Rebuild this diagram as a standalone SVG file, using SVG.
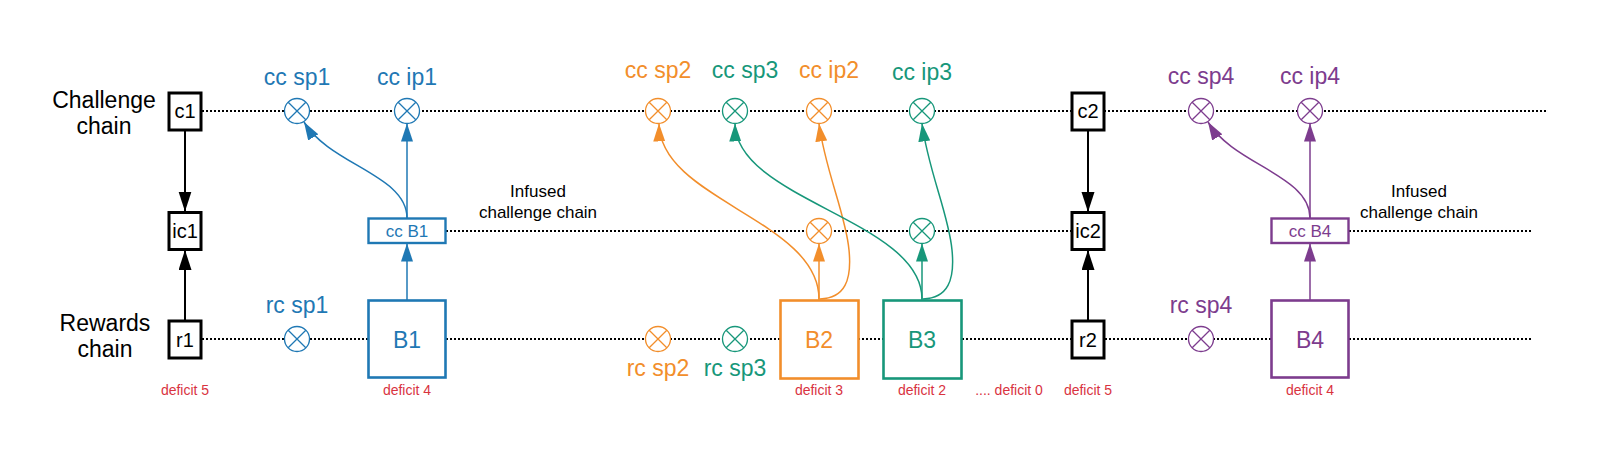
<svg xmlns="http://www.w3.org/2000/svg" width="1600" height="456" viewBox="0 0 1600 456">
<style>
text{font-family:"Liberation Sans",Arial,sans-serif;text-anchor:middle}
.lbl{font-size:23px}
.blk{fill:#000}
.inf{font-size:17px;fill:#000}
.def{font-size:14px;fill:#d9333f}
.dot{fill:none;stroke:#000;stroke-width:2;stroke-dasharray:2 2}
.bx{fill:#fff;stroke:#000;stroke-width:3}
.bxt{font-size:20px;fill:#000}
.blue{stroke:#1f78b4;fill:none}
.orange{stroke:#f28e2b;fill:none}
.teal{stroke:#17977a;fill:none}
.purple{stroke:#7d3c8e;fill:none}
.tb{fill:#1f78b4}.to{fill:#f28e2b}.tt{fill:#17977a}.tp{fill:#7d3c8e}
.cx{stroke-width:1.3}
.big{fill:#fff;stroke-width:2.6}
.small{fill:#fff;stroke-width:2.4}
.edge{stroke-width:1.5;fill:none}
.bedge{stroke:#000;stroke-width:2;fill:none}
.bt{font-size:23px}
.st{font-size:17px}
</style>
<defs>
<marker id="aK" markerUnits="userSpaceOnUse" markerWidth="20" markerHeight="14" refX="20" refY="6.5" orient="auto"><path d="M0,0 L20,6.5 L0,13 z" fill="#000"/></marker>
<marker id="aB" markerUnits="userSpaceOnUse" markerWidth="18" markerHeight="12" refX="18" refY="6" orient="auto"><path d="M0,0 L18,6 L0,12 z" fill="#1f78b4"/></marker>
<marker id="aO" markerUnits="userSpaceOnUse" markerWidth="18" markerHeight="12" refX="18" refY="6" orient="auto"><path d="M0,0 L18,6 L0,12 z" fill="#f28e2b"/></marker>
<marker id="aT" markerUnits="userSpaceOnUse" markerWidth="18" markerHeight="12" refX="18" refY="6" orient="auto"><path d="M0,0 L18,6 L0,12 z" fill="#17977a"/></marker>
<marker id="aP" markerUnits="userSpaceOnUse" markerWidth="18" markerHeight="12" refX="18" refY="6" orient="auto"><path d="M0,0 L18,6 L0,12 z" fill="#7d3c8e"/></marker>
<g id="xc"><circle r="12.5" fill="#fff"/><path d="M-8.8,-8.8 L8.8,8.8 M8.8,-8.8 L-8.8,8.8"/></g>
</defs>

<!-- chain labels -->
<g id="chain-labels">
<text class="lbl blk" x="104" y="108">Challenge</text>
<text class="lbl blk" x="104" y="134">chain</text>
<text class="lbl blk" x="105" y="331">Rewards</text>
<text class="lbl blk" x="105" y="357">chain</text>
<text class="inf" x="538" y="197">Infused</text>
<text class="inf" x="538" y="218">challenge chain</text>
<text class="inf" x="1419" y="197">Infused</text>
<text class="inf" x="1419" y="218">challenge chain</text>
</g>

<!-- dotted chain lines -->
<g id="chains">
<path class="dot" d="M202,111 H1072 M1104,111 H1547"/>
<path class="dot" d="M446,231 H1072 M1349,231 H1533"/>
<path class="dot" d="M202,339 H1072 M1105,339 H1533"/>
</g>

<!-- connectors -->
<g id="connectors">
<path class="bedge" d="M185,130 V211.5" marker-end="url(#aK)"/>
<path class="bedge" d="M185,320.5 V250" marker-end="url(#aK)"/>
<path class="bedge" d="M1088,130 V212" marker-end="url(#aK)"/>
<path class="bedge" d="M1088,320.5 V250" marker-end="url(#aK)"/>

<path class="edge blue" d="M407,300 V243.5" marker-end="url(#aB)"/>
<path class="edge blue" d="M407,218 V123.5" marker-end="url(#aB)"/>
<path class="edge blue" d="M407,218 C407,175 330,165 304,122" marker-end="url(#aB)"/>

<path class="edge orange" d="M819,300 V243.5" marker-end="url(#aO)"/>
<path class="edge orange" d="M819,299 C819,220 660,200 659,123.5" marker-end="url(#aO)"/>
<path class="edge orange" d="M820,299 C845,298 852,280 849,250 C846,215 825,170 819,123.5" marker-end="url(#aO)"/>

<path class="edge teal" d="M922,300 V243.5" marker-end="url(#aT)"/>
<path class="edge teal" d="M922,299 C922,220 736,200 735,123.5" marker-end="url(#aT)"/>
<path class="edge teal" d="M923,299 C948,298 955,280 952,250 C949,215 928,170 922,123.5" marker-end="url(#aT)"/>

<path class="edge purple" d="M1310,300 V243.5" marker-end="url(#aP)"/>
<path class="edge purple" d="M1310,218 V123.5" marker-end="url(#aP)"/>
<path class="edge purple" d="M1310,218 C1310,175 1234,165 1208,122" marker-end="url(#aP)"/>
</g>

<!-- black nodes -->
<g id="c1"><rect class="bx" x="169" y="93" width="32" height="37"/><text class="bxt" x="185" y="118">c1</text></g>
<g id="ic1"><rect class="bx" x="169" y="212.5" width="32" height="37"/><text class="bxt" x="185" y="238">ic1</text></g>
<g id="r1"><rect class="bx" x="169" y="321" width="32" height="37"/><text class="bxt" x="185" y="346.5">r1</text></g>
<g id="c2"><rect class="bx" x="1072" y="93" width="32" height="37"/><text class="bxt" x="1088" y="118">c2</text></g>
<g id="ic2"><rect class="bx" x="1072" y="212.5" width="32" height="37"/><text class="bxt" x="1088" y="238">ic2</text></g>
<g id="r2"><rect class="bx" x="1072" y="321" width="32" height="37"/><text class="bxt" x="1088" y="346.5">r2</text></g>

<!-- blue (block 1) -->
<g id="cc-sp1" class="blue"><use href="#xc" x="297" y="111" class="cx"/><text class="lbl tb" x="297" y="85" stroke="none">cc sp1</text></g>
<g id="cc-ip1" class="blue"><use href="#xc" x="407" y="111" class="cx"/><text class="lbl tb" x="407" y="85" stroke="none">cc ip1</text></g>
<g id="rc-sp1" class="blue"><use href="#xc" x="297" y="339" class="cx"/><text class="lbl tb" x="297" y="313" stroke="none">rc sp1</text></g>
<g id="cc-B1"><rect class="blue small" x="368.5" y="218.5" width="77" height="24.5"/><text class="st tb" x="407" y="237">cc B1</text></g>
<g id="B1"><rect class="blue big" x="368.5" y="300.5" width="77" height="77"/><text class="bt tb" x="407" y="347.5">B1</text></g>

<!-- orange (block 2) -->
<g id="cc-sp2" class="orange"><use href="#xc" x="658" y="111" class="cx"/><text class="lbl to" x="658" y="78" stroke="none">cc sp2</text></g>
<g id="cc-ip2" class="orange"><use href="#xc" x="819" y="111" class="cx"/><text class="lbl to" x="829" y="78" stroke="none">cc ip2</text></g>
<g id="icc-2" class="orange"><use href="#xc" x="819" y="231" class="cx"/></g>
<g id="rc-sp2" class="orange"><use href="#xc" x="658" y="339" class="cx"/><text class="lbl to" x="658" y="376" stroke="none">rc sp2</text></g>
<g id="B2"><rect class="orange big" x="780.5" y="300.5" width="78" height="78"/><text class="bt to" x="819" y="347.5">B2</text></g>

<!-- teal (block 3) -->
<g id="cc-sp3" class="teal"><use href="#xc" x="735" y="111" class="cx"/><text class="lbl tt" x="745" y="78" stroke="none">cc sp3</text></g>
<g id="cc-ip3" class="teal"><use href="#xc" x="922" y="111" class="cx"/><text class="lbl tt" x="922" y="80" stroke="none">cc ip3</text></g>
<g id="icc-3" class="teal"><use href="#xc" x="922" y="231" class="cx"/></g>
<g id="rc-sp3" class="teal"><use href="#xc" x="735" y="339" class="cx"/><text class="lbl tt" x="735" y="376" stroke="none">rc sp3</text></g>
<g id="B3"><rect class="teal big" x="883.5" y="300.5" width="78" height="78"/><text class="bt tt" x="922" y="347.5">B3</text></g>

<!-- purple (block 4) -->
<g id="cc-sp4" class="purple"><use href="#xc" x="1201" y="111" class="cx"/><text class="lbl tp" x="1201" y="84" stroke="none">cc sp4</text></g>
<g id="cc-ip4" class="purple"><use href="#xc" x="1310" y="111" class="cx"/><text class="lbl tp" x="1310" y="84" stroke="none">cc ip4</text></g>
<g id="rc-sp4" class="purple"><use href="#xc" x="1201" y="339" class="cx"/><text class="lbl tp" x="1201" y="313" stroke="none">rc sp4</text></g>
<g id="cc-B4"><rect class="purple small" x="1271.5" y="218.5" width="77" height="24.5"/><text class="st tp" x="1310" y="237">cc B4</text></g>
<g id="B4"><rect class="purple big" x="1271.5" y="300.5" width="77" height="77"/><text class="bt tp" x="1310" y="347.5">B4</text></g>

<!-- deficits -->
<g id="deficits">
<text class="def" x="185" y="395">deficit 5</text>
<text class="def" x="407" y="395">deficit 4</text>
<text class="def" x="819" y="395">deficit 3</text>
<text class="def" x="922" y="395">deficit 2</text>
<text class="def" x="1009" y="395">.... deficit 0</text>
<text class="def" x="1088" y="395">deficit 5</text>
<text class="def" x="1310" y="395">deficit 4</text>
</g>
</svg>
